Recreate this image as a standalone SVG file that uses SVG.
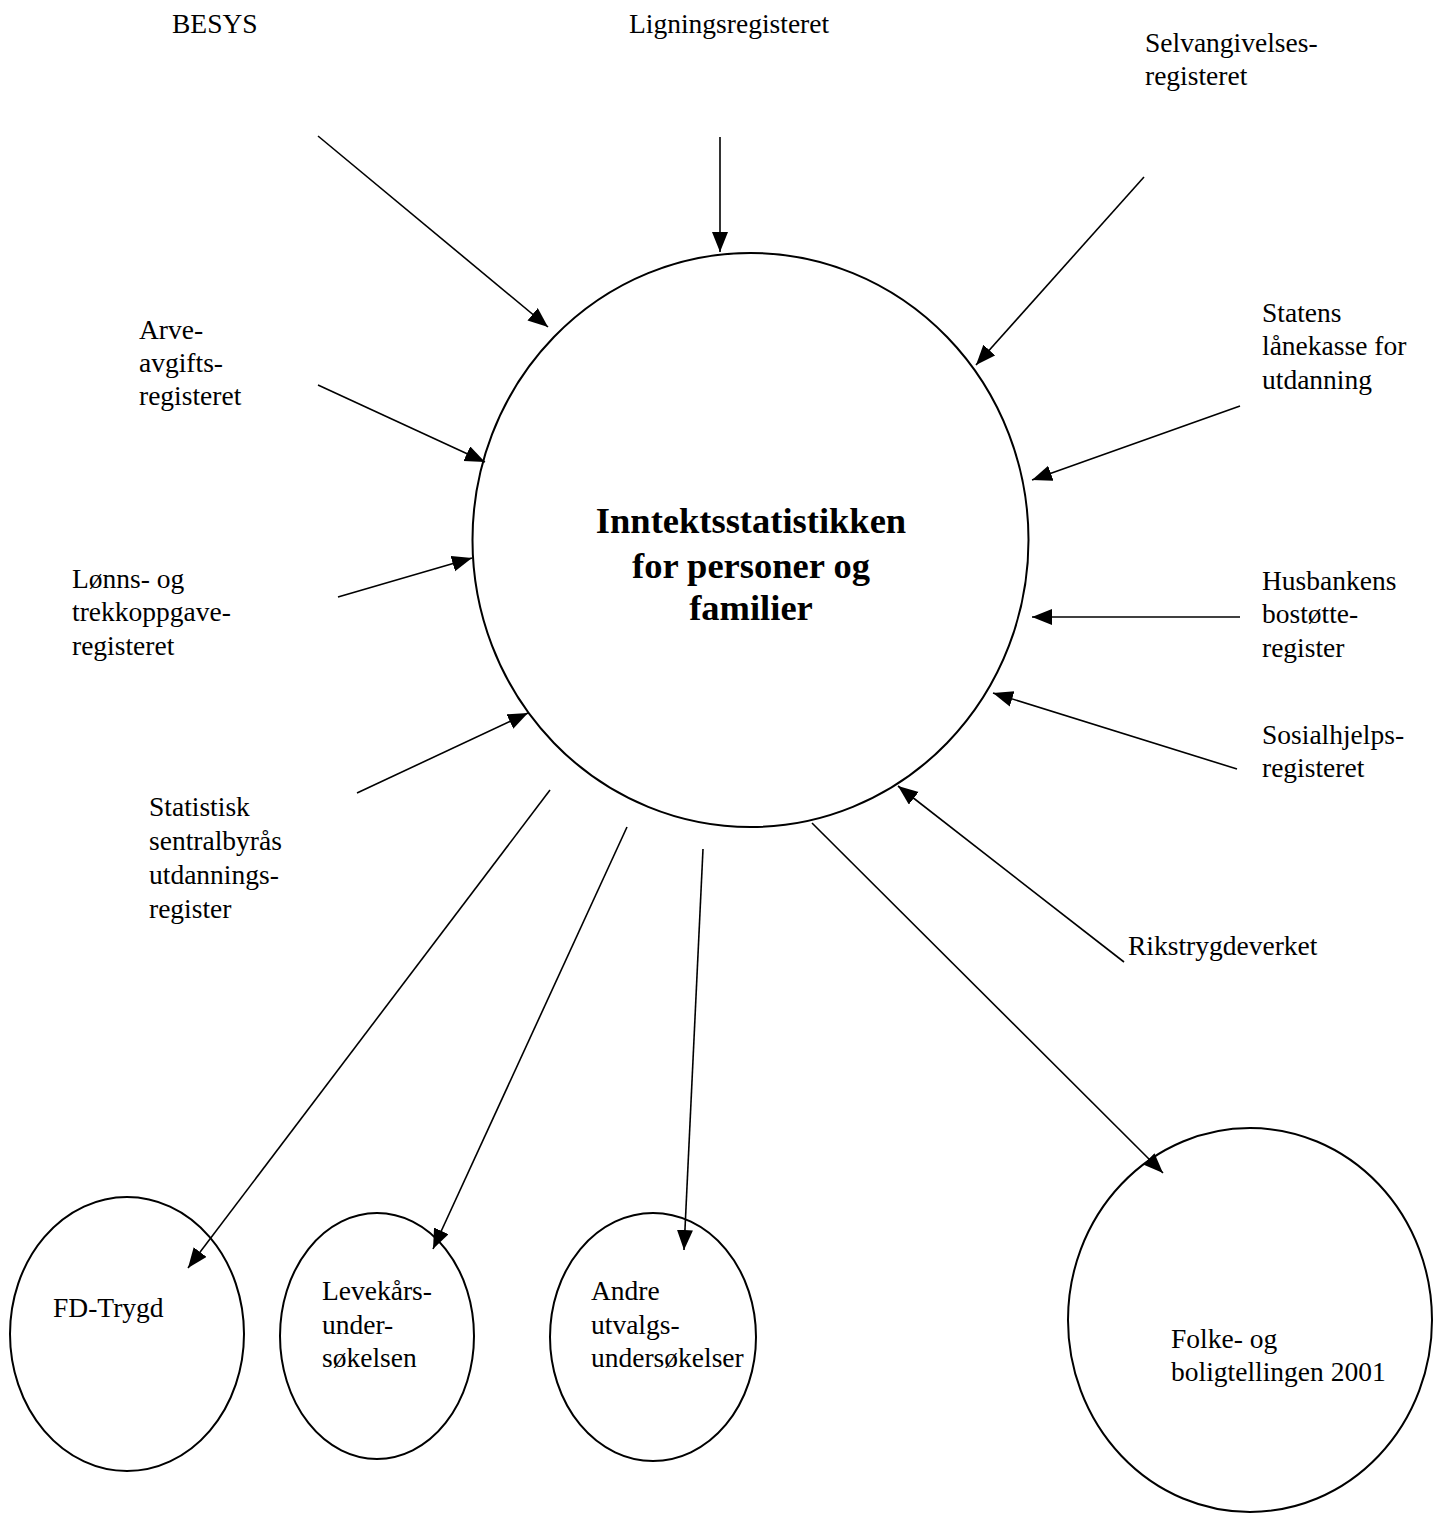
<svg xmlns="http://www.w3.org/2000/svg" width="1441" height="1519" viewBox="0 0 1441 1519">
<style>
text{font-family:"Liberation Serif","Times New Roman",serif;font-size:27.5px;fill:#000}
.title{font-weight:bold;font-size:36.5px;text-anchor:middle}
.node{fill:none;stroke:#000;stroke-width:2}
.conn line{stroke:#000;stroke-width:1.6;marker-end:url(#arr)}
</style>
<defs>
<marker id="arr" markerUnits="userSpaceOnUse" markerWidth="22" markerHeight="18" refX="20" refY="8" orient="auto">
<path d="M0,0 L20,8 L0,16 z" fill="#000"/>
</marker>
</defs>
<rect width="1441" height="1519" fill="#fff"/>
<g id="main">
<ellipse class="node" cx="750.5" cy="540" rx="278" ry="287"/>
<text class="title" x="751" y="533">Inntektsstatistikken</text>
<text class="title" x="751" y="578">for personer og</text>
<text class="title" x="751" y="620">familier</text>
</g>
<g id="besys"><text x="172" y="33">BESYS</text></g>
<g id="ligning"><text x="629" y="33">Ligningsregisteret</text></g>
<g id="selvangivelse"><text x="1145" y="52">Selvangivelses-</text><text x="1145" y="85">registeret</text></g>
<g id="arve"><text x="139" y="339">Arve-</text><text x="139" y="372">avgifts-</text><text x="139" y="405">registeret</text></g>
<g id="statens"><text x="1262" y="322">Statens</text><text x="1262" y="355">lånekasse for</text><text x="1262" y="389">utdanning</text></g>
<g id="lonns"><text x="72" y="588">Lønns- og</text><text x="72" y="621">trekkoppgave-</text><text x="72" y="655">registeret</text></g>
<g id="husbanken"><text x="1262" y="590">Husbankens</text><text x="1262" y="623">bostøtte-</text><text x="1262" y="657">register</text></g>
<g id="sosial"><text x="1262" y="744">Sosialhjelps-</text><text x="1262" y="777">registeret</text></g>
<g id="ssb"><text x="149" y="816">Statistisk</text><text x="149" y="850">sentralbyrås</text><text x="149" y="884">utdannings-</text><text x="149" y="918">register</text></g>
<g id="rikstrygd"><text x="1128" y="955">Rikstrygdeverket</text></g>
<g id="fdtrygd"><ellipse class="node" cx="127" cy="1334" rx="117" ry="137"/><text x="53" y="1317">FD-Trygd</text></g>
<g id="levekar"><ellipse class="node" cx="377" cy="1336" rx="97" ry="123"/><text x="322" y="1300">Levekårs-</text><text x="322" y="1334">under-</text><text x="322" y="1367">søkelsen</text></g>
<g id="andre"><ellipse class="node" cx="653" cy="1337" rx="103" ry="124"/><text x="591" y="1300">Andre</text><text x="591" y="1334">utvalgs-</text><text x="591" y="1367">undersøkelser</text></g>
<g id="folke"><ellipse class="node" cx="1250" cy="1320" rx="182" ry="192"/><text x="1171" y="1348">Folke- og</text><text x="1171" y="1381">boligtellingen 2001</text></g>
<g id="connectors" class="conn">
<line x1="318" y1="136" x2="548" y2="327"/>
<line x1="720" y1="137" x2="720" y2="252"/>
<line x1="1144" y1="177" x2="976" y2="365"/>
<line x1="318" y1="385" x2="485" y2="462"/>
<line x1="1240" y1="406" x2="1032" y2="480"/>
<line x1="338" y1="597" x2="472" y2="558"/>
<line x1="1240" y1="617" x2="1032" y2="617"/>
<line x1="1237" y1="769" x2="993" y2="693"/>
<line x1="357" y1="793" x2="528" y2="713"/>
<line x1="1124" y1="962" x2="898" y2="786"/>
<line x1="550" y1="790" x2="188" y2="1268"/>
<line x1="627" y1="827" x2="433" y2="1249"/>
<line x1="703" y1="849" x2="684" y2="1250"/>
<line x1="812" y1="823" x2="1163" y2="1173"/>
</g>
</svg>
